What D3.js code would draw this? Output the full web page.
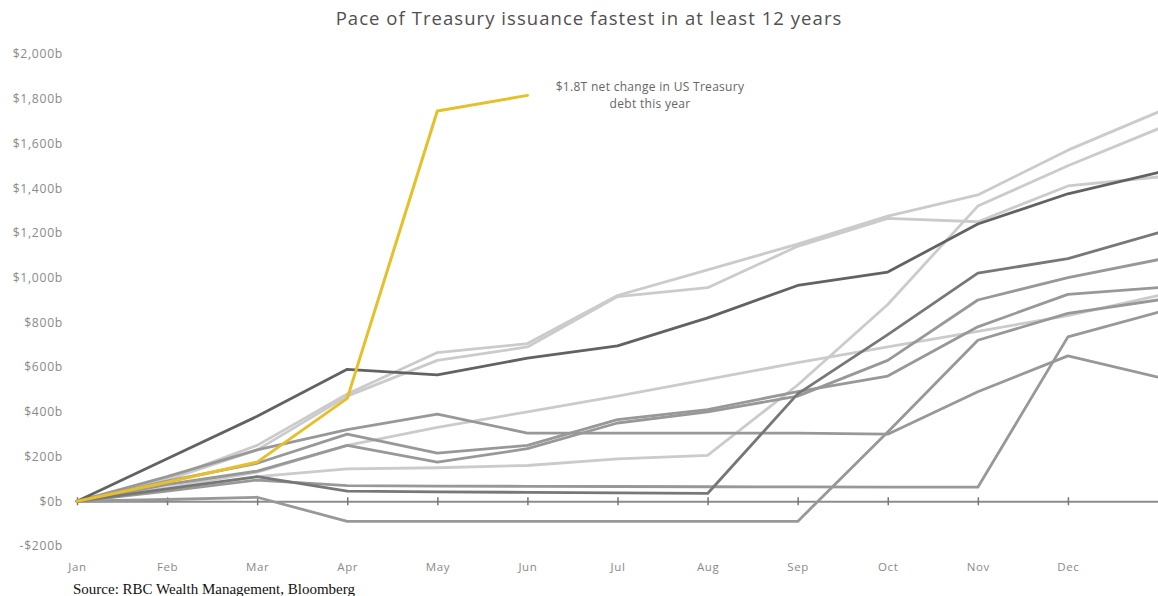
<!DOCTYPE html>
<html>
<head>
<meta charset="utf-8">
<script src="https://cdn.jsdelivr.net/npm/d3@7"></script>
<style>
  body { margin: 0; background: #fff; }
  svg { display: block; }
</style>
</head>
<body>
<div id="chart"></div>
<script>
// ---------- data (net change in US Treasury debt, $b, cumulative by month)
const months = ["Jan","Feb","Mar","Apr","May","Jun","Jul","Aug","Sep","Oct","Nov","Dec"];
const yTicks = [-200,0,200,400,600,800,1000,1200,1400,1600,1800,2000];

const current = [0, 85, 175, 460, 1745, 1815];   // this year, to Jun

// prior years, Jan .. Dec plus year end
const seriesA = [0, 190, 380, 590, 565, 640, 695, 820, 965, 1025, 1240, 1375, 1470];
const seriesB = [0, 100, 250, 480, 665, 705, 920, 1035, 1150, 1275, 1370, 1570, 1740];
const seriesC = [0, 95, 230, 470, 630, 690, 915, 955, 1140, 1265, 1250, 1410, 1450];
const seriesD = [0, 50, 110, 145, 150, 160, 190, 205, 520, 880, 1320, 1500, 1665];
const seriesE = [0, 55, 110, 45, 42, 40, 38, 35, 480, 745, 1020, 1085, 1200];
const seriesG = [0, 110, 230, 320, 390, 305, 305, 305, 305, 300, 490, 650, 555];
const seriesH = [0, 90, 170, 300, 215, 250, 365, 410, 490, 560, 780, 925, 955];
const seriesI = [0, 75, 135, 250, 175, 235, 350, 400, 470, 630, 900, 1000, 1080];
const seriesJ = [0, 60, 130, 250, 330, 400, 470, 545, 620, 690, 760, 830, 920];
const seriesL = [0, 45, 95, 70, 68, 67, 66, 65, 64, 63, 63, 735, 845];
const seriesM = [0, 8, 18, -90, -90, -90, -90, -90, -90, 310, 720, 840, 900];

const grayLight  = [seriesB, seriesC, seriesD, seriesJ];
const grayMedium = [seriesG, seriesH, seriesI, seriesL, seriesM];
const grayDark   = [seriesE, seriesA];

async function draw() {

//*************************1. Measurement
  const dimensions = {
    width: 1158,
    height: 596,
    margin: { top: 54, right: 0, bottom: 50, left: 77 }
  };
  const labelFont = "'Open Sans', sans-serif";

//*************************2. Canvas
  const wrapper = d3.select("#chart")
    .append("svg")
    .attr("width", dimensions.width)
    .attr("height", dimensions.height);

//*************************3. Scales
  const xScale = d3.scaleLinear()
    .domain([0, 12])
    .range([77, 1158]);

  const yScale = d3.scaleLinear()
    .domain([-200, 2000])
    .range([546, 54]);

//*************************4. Title
  wrapper.append("text")
    .attr("x", 589)
    .attr("y", 25)
    .attr("text-anchor", "middle")
    .style("font-family", labelFont)
    .style("font-size", "18.5px")
    .style("letter-spacing", "1.05px")
    .style("fill", "#505050")
    .text("Pace of Treasury issuance fastest in at least 12 years");

//*************************5. Axes
  const fmt = d3.format(",");
  const yAxisGenerator = d3.axisLeft(yScale)
    .tickValues(yTicks)
    .tickSize(0)
    .tickPadding(0)
    .tickFormat(d => (d < 0 ? "-$" : "$") + fmt(Math.abs(d)) + "b");

  const yAxis = wrapper.append("g")
    .attr("transform", "translate(63,0)")
    .call(yAxisGenerator);
  yAxis.select(".domain").remove();
  yAxis.selectAll("text")
    .style("font-family", labelFont)
    .style("font-size", "12.2px")
    .style("letter-spacing", "0.7px")
    .style("fill", "#8a8a8a");

  // zero line with month ticks
  const zeroAxis = wrapper.append("g")
    .attr("transform", `translate(0,${yScale(0)})`)
    .call(d3.axisBottom(xScale).tickValues(d3.range(0, 12)).tickSize(0).tickFormat(""));
  zeroAxis.select(".domain").attr("stroke", "#8c8c8c").attr("stroke-width", 2);
  zeroAxis.selectAll(".tick line")
    .attr("y1", -4).attr("y2", 4)
    .attr("stroke", "#777").attr("stroke-width", 1.5);

  // month labels
  const xAxis = wrapper.append("g")
    .attr("transform", "translate(0,567)")
    .call(d3.axisBottom(xScale)
      .tickValues(d3.range(0, 12))
      .tickSize(0)
      .tickPadding(0)
      .tickFormat(i => months[i]));
  xAxis.select(".domain").remove();
  xAxis.selectAll("text")
    .attr("dy", "0.32em")
    .style("font-family", labelFont)
    .style("font-size", "11.5px")
    .style("letter-spacing", "0.6px")
    .style("fill", "#8a8a8a");

//*************************6. Lines
  const lineGenerator = d3.line()
    .x((d, i) => xScale(i))
    .y(d => yScale(d));

  const lines = wrapper.append("g")
    .attr("fill", "none")
    .attr("stroke-linejoin", "round")
    .attr("stroke-linecap", "round");

  lines.selectAll(".light")
    .data(grayLight)
    .join("path")
    .attr("class", "light")
    .attr("d", lineGenerator)
    .attr("stroke", "#cbcbcb")
    .attr("stroke-width", 2.8);

  lines.selectAll(".medium")
    .data(grayMedium)
    .join("path")
    .attr("class", "medium")
    .attr("d", lineGenerator)
    .attr("stroke", "#989898")
    .attr("stroke-width", 2.8);

  lines.selectAll(".dark")
    .data(grayDark)
    .join("path")
    .attr("class", "dark")
    .attr("d", lineGenerator)
    .attr("stroke", (d, i) => i === 0 ? "#777777" : "#626262")
    .attr("stroke-width", 2.8);

  lines.append("path")
    .datum(current)
    .attr("d", lineGenerator)
    .attr("stroke", "#e6c02a")
    .attr("stroke-width", 3);

//*************************7. Annotation + source
  const note = wrapper.append("text")
    .attr("text-anchor", "middle")
    .style("font-family", labelFont)
    .style("font-size", "12px")
    .style("letter-spacing", "0.3px")
    .style("fill", "#666");
  note.append("tspan").attr("x", 650).attr("y", 91).text("$1.8T net change in US Treasury");
  note.append("tspan").attr("x", 650).attr("y", 108).text("debt this year");

  wrapper.append("text")
    .attr("x", 73)
    .attr("y", 594)
    .style("font-family", "'Liberation Serif', 'Times New Roman', serif")
    .style("font-size", "15px")
    .style("fill", "#111")
    .text("Source: RBC Wealth Management, Bloomberg");
}
draw();
</script>
</body>
</html>
